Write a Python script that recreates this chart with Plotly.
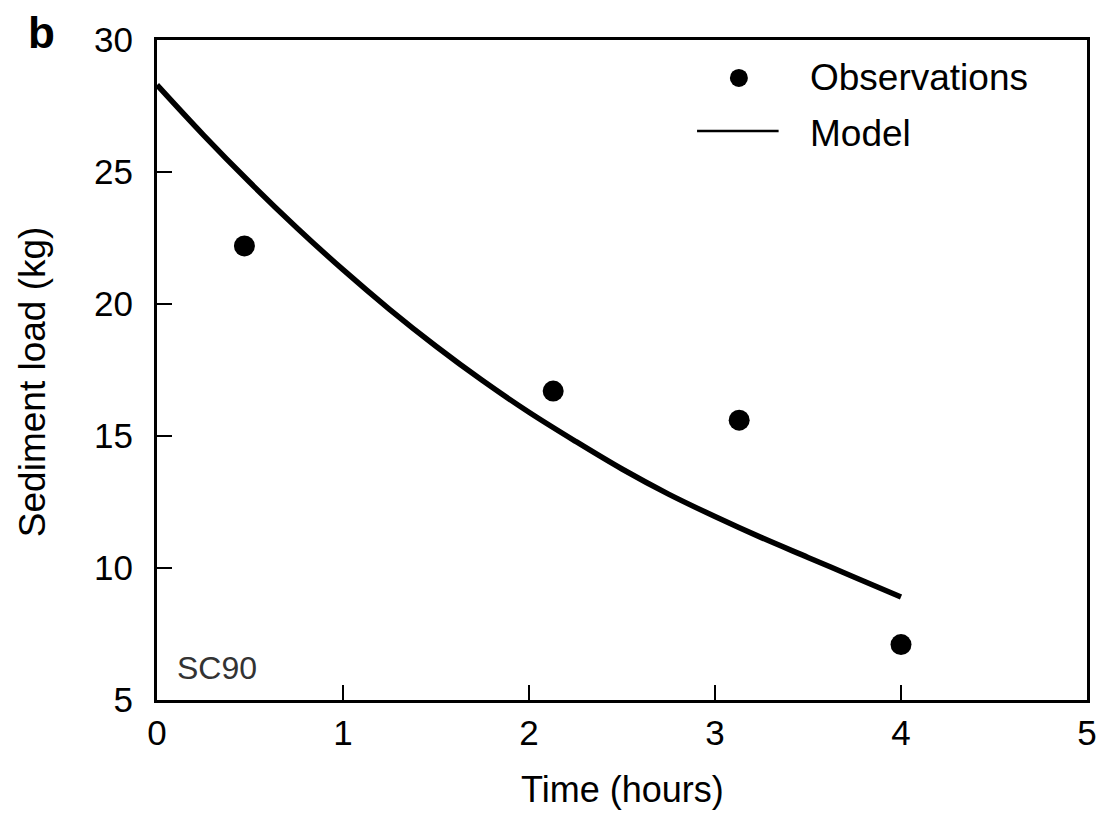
import plotly.graph_objects as go

# Observations
obs_time = [0.47, 2.13, 3.13, 4.0]
obs_load = [22.2, 16.7, 15.6, 7.1]

# Model curve
model_time = [0, 0.25, 0.5, 0.75, 1.0, 1.25, 1.5, 1.75, 2.0, 2.25, 2.5, 2.75, 3.0, 3.25, 3.5, 3.75, 4.0]
model_load = [28.3, 26.4, 24.6, 22.9, 21.3, 19.8, 18.4, 17.1, 15.9, 14.8, 13.75, 12.8, 11.95, 11.15, 10.4, 9.65, 8.9]

x_ticks = [0, 1, 2, 3, 4, 5]
y_ticks = [5, 10, 15, 20, 25, 30]

FONT = "Liberation Sans, Arial, sans-serif"

fig = go.Figure()
fig.add_trace(go.Scatter(x=model_time, y=model_load, mode="lines",
                         line=dict(color="black", width=5.5, shape="spline", smoothing=1.0),
                         showlegend=False, name="Model"))
fig.add_trace(go.Scatter(x=obs_time, y=obs_load, mode="markers",
                         marker=dict(color="black", size=21),
                         showlegend=False, name="Observations"))

axis_common = dict(showline=True, linecolor="black", linewidth=3, mirror=True,
                   ticks="inside", ticklen=15, tickwidth=1.5, tickcolor="black",
                   showgrid=False, zeroline=False,
                   tickfont=dict(family=FONT, size=35, color="black"))

fig.update_xaxes(range=[0, 5], tickvals=x_ticks, **axis_common)
fig.update_yaxes(range=[5, 30], tickvals=y_ticks, ticklabelstandoff=14, **axis_common)

# Axis titles
fig.add_annotation(text="Time (hours)", xref="paper", yref="paper", x=0.5, y=-0.136,
                   xanchor="center", yanchor="middle", showarrow=False,
                   font=dict(family=FONT, size=36, color="black"))
fig.add_annotation(text="Sediment load (kg)", xref="paper", yref="paper", x=-0.1337, y=0.4826,
                   xanchor="center", yanchor="middle", textangle=-90, showarrow=False,
                   font=dict(family=FONT, size=37, color="black"))

# Manual legend
fig.add_shape(type="circle", xref="paper", yref="paper", xsizemode="pixel", ysizemode="pixel",
              xanchor=0.6257, yanchor=0.9425, x0=-9, x1=9, y0=-9, y1=9,
              fillcolor="black", line=dict(color="black", width=0))
fig.add_shape(type="line", xref="paper", yref="paper", x0=0.5807, x1=0.6684, y0=0.8623, y1=0.8623,
              line=dict(color="black", width=2.5))
fig.add_annotation(text="Observations", xref="paper", yref="paper", x=0.7005, y=0.943,
                   xanchor="left", yanchor="middle", showarrow=False,
                   font=dict(family=FONT, size=37, color="black"))
fig.add_annotation(text="Model", xref="paper", yref="paper", x=0.7005, y=0.859,
                   xanchor="left", yanchor="middle", showarrow=False,
                   font=dict(family=FONT, size=37, color="black"))

fig.add_annotation(text="SC90", xref="paper", yref="paper", x=0.0193, y=0.048,
                   xanchor="left", yanchor="middle", showarrow=False,
                   font=dict(family=FONT, size=32, color="#333333"))
fig.add_annotation(text="<b>b</b>", xref="paper", yref="paper", x=-0.124, y=1.012,
                   xanchor="center", yanchor="middle", showarrow=False,
                   font=dict(family=FONT, size=44, color="black"))

# page body has an 8px margin, so offset the figure margins accordingly
fig.update_layout(width=1101, height=809,
                  margin=dict(l=149, r=17, t=31, b=117),
                  plot_bgcolor="white", paper_bgcolor="white")

fig.write_html("out.html")
